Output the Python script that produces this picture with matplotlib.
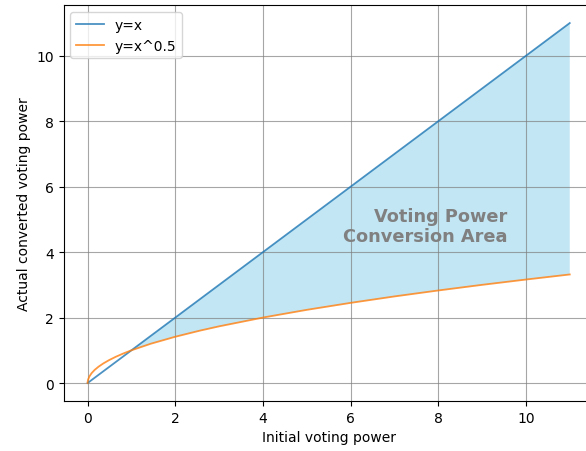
import numpy as np
import matplotlib
matplotlib.use('Agg')
import matplotlib.pyplot as plt

# 读取的点: 初始投票权 与 转换后的投票权
x_vals = [0, 0.0025, 0.01, 0.04, 0.09, 0.16, 0.25, 0.36, 0.49, 0.64, 0.81, 1, 1.44, 2, 2.56,
          3, 4, 5, 6, 7, 8, 9, 10, 11]
y_linear = [0, 0.0025, 0.01, 0.04, 0.09, 0.16, 0.25, 0.36, 0.49, 0.64, 0.81, 1, 1.44, 2, 2.56,
            3, 4, 5, 6, 7, 8, 9, 10, 11]
y_sqrt = [0, 0.05, 0.1, 0.2, 0.3, 0.4, 0.5, 0.6, 0.7, 0.8, 0.9, 1, 1.2, 1.414, 1.6,
          1.732, 2, 2.236, 2.449, 2.646, 2.828, 3, 3.162, 3.317]

x = np.array(x_vals)
y1 = np.array(y_linear)
y2 = np.array(y_sqrt)

fig = plt.figure(figsize=(5.86, 4.52), dpi=100)
# 原图右侧被裁掉了一点，所以坐标轴超出画布
ax = fig.add_axes([0.1084, 0.1106, 0.905, 0.876])

ax.plot(x, y1, label='y=x', color='tab:blue', alpha=0.8, lw=1.3)
ax.plot(x, y2, label='y=x^0.5', color='tab:orange', alpha=0.8, lw=1.3)
ax.fill_between(x, y1, y2, where=(y1 >= y2), interpolate=True, color='skyblue', alpha=0.5, lw=0)

ax.text(7.7, 4.8, 'Voting Power\nConversion Area', ha='center', va='center',
        multialignment='right', fontsize=12.8, fontweight='bold', color='gray')

ax.set_xlabel('Initial voting power')
ax.set_ylabel('Actual converted voting power')
ax.grid(True, color='gray', alpha=0.7)
ax.legend(loc='upper left')

plt.savefig('out.png', dpi=100)
